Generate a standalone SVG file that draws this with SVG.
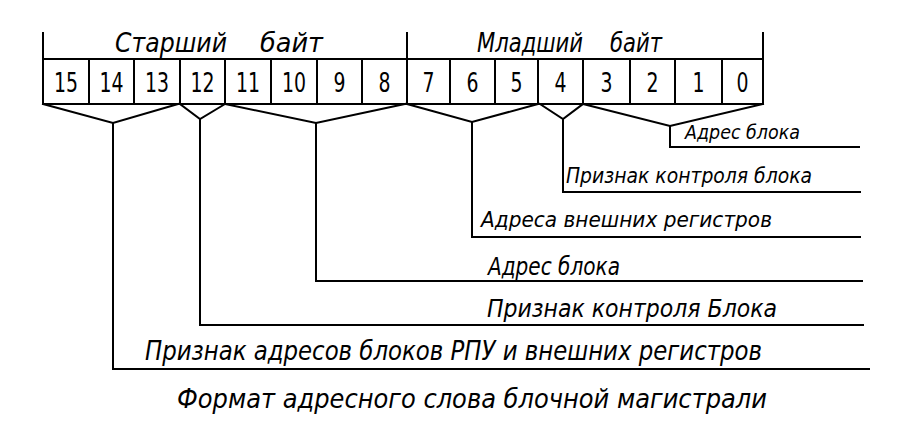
<svg xmlns="http://www.w3.org/2000/svg" width="906" height="427" viewBox="0 0 906 427">
<style>
.ln{fill:none;stroke:#000;stroke-width:2;stroke-linejoin:miter;stroke-linecap:square}
.cell{fill:#fff;stroke:#000;stroke-width:2}
.dg{font-family:"DejaVu Sans",sans-serif;font-size:27px;text-anchor:middle;fill:#000}
.lb{font-family:"DejaVu Sans",sans-serif;font-style:italic;fill:#000}
</style>
<rect width="906" height="427" fill="#fff"/>
<g id="byte-headers">
<path class="ln" d="M43,33V59M407,33V59M763,33V59"/>
<text class="lb" font-size="27" y="52"><tspan x="115" textLength="112" lengthAdjust="spacingAndGlyphs">Старший</tspan> <tspan x="260" textLength="63" lengthAdjust="spacingAndGlyphs">байт</tspan></text>
<text class="lb" font-size="27" y="52"><tspan x="477" textLength="106" lengthAdjust="spacingAndGlyphs">Младший</tspan> <tspan x="610" textLength="52" lengthAdjust="spacingAndGlyphs">байт</tspan></text>
</g>
<g id="register">
<g id="bit15"><rect class="cell" x="43" y="59" width="46" height="45"/></g>
<g id="bit14"><rect class="cell" x="89" y="59" width="45" height="45"/></g>
<g id="bit13"><rect class="cell" x="134" y="59" width="46" height="45"/></g>
<g id="bit12"><rect class="cell" x="180" y="59" width="45" height="45"/></g>
<g id="bit11"><rect class="cell" x="225" y="59" width="46" height="45"/></g>
<g id="bit10"><rect class="cell" x="271" y="59" width="46" height="45"/></g>
<g id="bit9"><rect class="cell" x="317" y="59" width="45" height="45"/></g>
<g id="bit8"><rect class="cell" x="362" y="59" width="45" height="45"/></g>
<g id="bit7"><rect class="cell" x="407" y="59" width="43" height="45"/></g>
<g id="bit6"><rect class="cell" x="450" y="59" width="45" height="45"/></g>
<g id="bit5"><rect class="cell" x="495" y="59" width="43" height="45"/></g>
<g id="bit4"><rect class="cell" x="538" y="59" width="45" height="45"/></g>
<g id="bit3"><rect class="cell" x="583" y="59" width="47" height="45"/></g>
<g id="bit2"><rect class="cell" x="630" y="59" width="45" height="45"/></g>
<g id="bit1"><rect class="cell" x="675" y="59" width="47" height="45"/></g>
<g id="bit0"><rect class="cell" x="722" y="59" width="41" height="45"/></g>
<g transform="scale(0.7 1)">
<text class="dg" x="94.3" y="92">15</text>
<text class="dg" x="159.3" y="92">14</text>
<text class="dg" x="224.3" y="92">13</text>
<text class="dg" x="289.3" y="92">12</text>
<text class="dg" x="354.3" y="92">11</text>
<text class="dg" x="420" y="92">10</text>
<text class="dg" x="485" y="92">9</text>
<text class="dg" x="549.3" y="92">8</text>
<text class="dg" x="612.1" y="92">7</text>
<text class="dg" x="675" y="92">6</text>
<text class="dg" x="737.9" y="92">5</text>
<text class="dg" x="800.7" y="92">4</text>
<text class="dg" x="866.4" y="92">3</text>
<text class="dg" x="932.1" y="92">2</text>
<text class="dg" x="997.9" y="92">1</text>
<text class="dg" x="1060.7" y="92">0</text>
</g>
</g>
<g id="connectors">
<path class="ln" d="M43,104L113,123L178,104"/>
<path class="ln" d="M180,104L200,119L225,104"/>
<path class="ln" d="M225,104L316,123L405,104"/>
<path class="ln" d="M407,104L472,122L538,104"/>
<path class="ln" d="M540,104L563,119L583,104"/>
<path class="ln" d="M583,104L670,126L763,104"/>
<path class="ln" d="M670,126V147H859"/>
<path class="ln" d="M563,119V192H860"/>
<path class="ln" d="M472,122V237H860"/>
<path class="ln" d="M316,123V281H862"/>
<path class="ln" d="M200,119V325H863"/>
<path class="ln" d="M113,123V369H869"/>
</g>
<g id="label-block-address-low"><text class="lb" font-size="20" x="685" y="139" textLength="115" lengthAdjust="spacingAndGlyphs">Адрес блока</text></g>
<g id="label-block-check-low"><text class="lb" font-size="21" x="566" y="183" textLength="246" lengthAdjust="spacingAndGlyphs">Признак контроля блока</text></g>
<g id="label-ext-registers"><text class="lb" font-size="22" x="481" y="227" textLength="291" lengthAdjust="spacingAndGlyphs">Адреса внешних регистров</text></g>
<g id="label-block-address-high"><text class="lb" font-size="24" x="488" y="275" textLength="132" lengthAdjust="spacingAndGlyphs">Адрес блока</text></g>
<g id="label-block-check-high"><text class="lb" font-size="25" x="487" y="317" textLength="290" lengthAdjust="spacingAndGlyphs">Признак контроля Блока</text></g>
<g id="label-rpu"><text class="lb" font-size="27" x="145" y="360" textLength="617" lengthAdjust="spacingAndGlyphs">Признак адресов блоков РПУ и внешних регистров</text></g>
<g id="caption"><text class="lb" font-size="27" x="177" y="408" textLength="590" lengthAdjust="spacingAndGlyphs">Формат адресного слова блочной магистрали</text></g>
</svg>
